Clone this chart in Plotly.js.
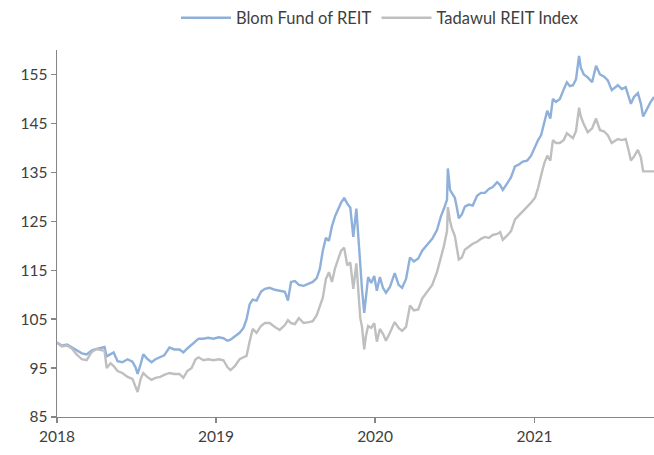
<!DOCTYPE html>
<html>
<head>
<meta charset="utf-8">
<script src="https://cdn.plot.ly/plotly-3.0.1.min.js"></script>
<style>html,body{margin:0;padding:0;background:#fff;}#chart{width:654px;height:455px;}</style>
</head>
<body>
<div id="chart"></div>
<script>
const dates = ["2018-01-01","2018-01-12","2018-01-24","2018-02-04","2018-02-15","2018-02-27","2018-03-10","2018-03-22","2018-04-02","2018-04-13","2018-04-20","2018-04-25","2018-05-04","2018-05-11","2018-05-20","2018-05-31","2018-06-12","2018-06-23","2018-06-30","2018-07-05","2018-07-12","2018-07-18","2018-07-27","2018-08-06","2018-08-15","2018-08-26","2018-09-04","2018-09-16","2018-09-27","2018-10-09","2018-10-18","2018-10-27","2018-11-06","2018-11-15","2018-11-22","2018-12-03","2018-12-14","2018-12-26","2019-01-07","2019-01-18","2019-01-27","2019-02-03","2019-02-13","2019-02-24","2019-03-05","2019-03-12","2019-03-19","2019-03-26","2019-04-04","2019-04-14","2019-04-23","2019-05-04","2019-05-16","2019-05-27","2019-06-08","2019-06-15","2019-06-22","2019-07-01","2019-07-10","2019-07-21","2019-08-02","2019-08-11","2019-08-20","2019-08-27","2019-09-03","2019-09-10","2019-09-17","2019-09-24","2019-10-01","2019-10-08","2019-10-15","2019-10-22","2019-10-29","2019-11-05","2019-11-12","2019-11-19","2019-11-23","2019-11-28","2019-12-02","2019-12-07","2019-12-11","2019-12-16","2019-12-23","2019-12-30","2020-01-05","2020-01-12","2020-01-19","2020-01-26","2020-02-04","2020-02-15","2020-02-24","2020-03-03","2020-03-12","2020-03-21","2020-03-30","2020-04-09","2020-04-18","2020-04-29","2020-05-11","2020-05-22","2020-05-31","2020-06-07","2020-06-14","2020-06-16","2020-06-21","2020-06-25","2020-07-02","2020-07-07","2020-07-11","2020-07-18","2020-07-25","2020-08-03","2020-08-12","2020-08-22","2020-08-31","2020-09-09","2020-09-18","2020-09-27","2020-10-07","2020-10-14","2020-10-20","2020-10-29","2020-11-08","2020-11-17","2020-11-26","2020-12-05","2020-12-15","2020-12-24","2021-01-02","2021-01-09","2021-01-16","2021-01-23","2021-01-30","2021-02-06","2021-02-12","2021-02-19","2021-02-28","2021-03-09","2021-03-16","2021-03-23","2021-03-30","2021-04-06","2021-04-13","2021-04-17","2021-04-24","2021-05-03","2021-05-13","2021-05-22","2021-05-31","2021-06-09","2021-06-18","2021-06-27","2021-07-04","2021-07-11","2021-07-20","2021-07-29","2021-08-05","2021-08-10","2021-08-17","2021-08-26","2021-09-02","2021-09-07","2021-09-14","2021-09-23","2021-10-02"];

const blomFund = [100.2,99.6,99.8,99.2,98.6,98.0,97.8,98.6,98.9,99.1,99.3,97.4,97.8,98.2,96.4,96.2,96.8,96.3,95.2,93.8,95.8,97.8,96.9,96.2,96.8,97.2,97.6,99.2,98.8,98.8,98.2,99.0,99.8,100.4,101.0,101.0,101.2,101.0,101.3,101.1,100.6,100.8,101.4,102.2,103.2,105.0,108.0,109.0,108.8,110.6,111.2,111.4,111.0,110.8,110.6,108.8,112.6,112.8,112.0,111.8,112.2,112.6,113.4,115.2,119.0,121.6,121.0,124.0,126.0,127.6,128.8,129.8,128.6,127.8,121.8,127.6,122.0,116.5,111.0,106.3,109.6,113.6,112.4,113.8,110.8,113.6,111.4,110.4,111.6,114.4,112.0,111.4,113.2,117.6,116.8,117.4,119.0,120.2,121.4,123.2,126.0,127.6,129.4,135.8,131.4,130.8,129.8,127.6,125.6,126.4,128.0,128.4,128.2,130.2,130.8,130.8,131.6,132.0,133.0,132.4,131.4,132.6,134.0,136.2,136.6,137.2,137.4,138.4,140.2,141.6,142.6,145.0,147.6,146.0,150.0,149.4,150.0,152.0,153.4,152.6,152.8,154.0,158.8,156.4,155.0,154.4,153.4,156.8,155.0,154.6,153.8,151.8,152.4,152.8,152.0,152.4,150.4,149.0,150.4,151.2,149.0,146.4,147.6,149.2,150.4];

const tadawulReit = [100.2,99.4,99.6,99.0,97.8,96.8,96.6,98.3,98.9,98.7,98.5,95.0,96.0,95.4,94.4,94.0,93.2,92.8,91.4,90.1,92.8,94.0,93.2,92.6,93.0,93.2,93.6,94.0,93.8,93.8,93.0,94.4,95.0,96.8,97.2,96.6,96.8,96.6,96.8,96.6,95.2,94.6,95.4,96.8,97.2,97.5,100.4,103.0,102.2,103.6,104.2,104.2,103.4,102.8,103.8,104.8,104.2,104.0,105.2,104.2,104.4,104.6,105.8,107.4,109.4,113.2,114.6,112.6,115.4,117.2,119.0,119.6,116.0,116.6,111.2,116.4,110.4,105.2,103.4,98.8,101.6,103.6,103.2,104.2,100.4,103.0,102.0,100.6,102.2,104.4,103.2,102.6,103.4,107.8,106.8,107.0,109.2,110.6,112.0,114.6,117.4,120.0,123.0,127.9,125.0,123.6,122.0,119.4,117.2,117.6,119.2,119.8,120.4,120.8,121.4,121.8,121.6,122.2,122.4,122.8,121.2,122.0,123.0,125.4,126.2,127.2,128.0,128.8,129.8,131.8,134.4,136.8,138.4,137.4,141.6,141.0,141.0,141.6,143.0,142.4,142.0,143.4,148.2,146.4,144.8,143.2,144.0,146.0,143.6,143.4,142.6,141.0,141.4,141.8,141.6,141.8,139.4,137.4,138.2,139.6,138.0,135.2,135.2,135.2,135.2];

const seriesNames = ["Blom Fund of REIT", "Tadawul REIT Index"];
const yTicks = [85, 95, 105, 115, 125, 135, 145, 155];
const xTicks = ["2018-01-01", "2019-01-01", "2020-01-01", "2021-01-01"];
const xTickText = ["2018", "2019", "2020", "2021"];

const font = "Lato, 'Open Sans', sans-serif";
const traces = [
  {x: dates, y: blomFund, name: seriesNames[0], type: "scatter", mode: "lines",
   line: {color: "#8EB0DA", width: 2.4}},
  {x: dates, y: tadawulReit, name: seriesNames[1], type: "scatter", mode: "lines",
   line: {color: "#BFBFBF", width: 2.4}}
];
const layout = {
  width: 654, height: 455,
  margin: {l: 57, r: 0, t: 50, b: 38},
  paper_bgcolor: "#fff", plot_bgcolor: "#fff",
  font: {family: font, size: 14, color: "#404040"},
  showlegend: true,
  legend: {orientation: "h", x: 0.541, xanchor: "center", y: 1.135, yanchor: "top",
           font: {family: font, size: 16.5, color: "#404040"}, itemwidth: 50, traceorder: "normal"},
  xaxis: {type: "date", range: ["2018-01-01", "2021-10-02"], tickvals: xTicks, ticktext: xTickText,
          showgrid: false, zeroline: false, showline: true, linecolor: "#868686", linewidth: 1.3,
          ticks: "outside", ticklen: 5, tickcolor: "#868686", tickwidth: 1.3,
          tickfont: {family: font, size: 15.5, color: "#404040"}},
  yaxis: {range: [85, 160], tickvals: yTicks, showgrid: false, zeroline: false,
          showline: true, linecolor: "#868686", linewidth: 1.3,
          ticks: "outside", ticklen: 5, tickcolor: "#868686", tickwidth: 1.3,
          tickfont: {family: font, size: 15.5, color: "#404040"}}
};
Plotly.newPlot("chart", traces, layout, {displayModeBar: false, staticPlot: true});
</script>
</body>
</html>
